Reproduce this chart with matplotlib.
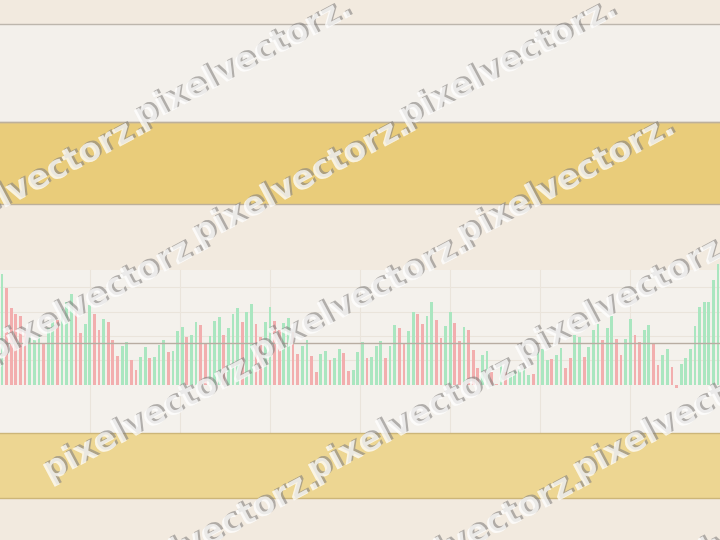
import matplotlib
matplotlib.use('Agg')
import matplotlib.pyplot as plt
import matplotlib.patheffects as pe
from matplotlib.patches import Rectangle
import numpy as np

# bar heights (volume-like series)
volume = [111, 97, 77, 71, 69, 55, 48, 45, 50, 41, 57, 66, 65, 76, 83, 91,
          74, 52, 61, 80, 71, 55, 66, 63, 45, 29, 39, 43, 25, 15, 28, 38,
          27, 28, 40, 45, 33, 34, 54, 58, 48, 50, 63, 60, 41, 49, 64, 68,
          50, 57, 71, 77, 63, 73, 81, 61, 48, 63, 78, 64, 55, 62, 67, 53,
          31, 39, 45, 29, 13, 31, 34, 25, 27, 36, 32, 14, 15, 33, 43, 27,
          28, 39, 44, 27, 39, 60, 57, 41, 54, 73, 71, 61, 69, 83, 65, 47,
          59, 73, 62, 44, 58, 55, 35, 17, 30, 34, 13, 1, 23, 13, 13, 14,
          16, 17, 10, 11, 33, 36, 25, 26, 30, 37, 17, 27, 50, 48, 28, 38,
          55, 61, 45, 57, 69, 46, 30, 46, 66, 50, 43, 55, 60, 42, 20, 30,
          36, 18, -3.5, 21, 27, 36, 59, 78, 83, 83, 105, 121]
direction = list("GRRRRRGGGRGGRGGGRRGGRRGRRRGGRRGGRGGGRGGGRGGRRGGGRGGGRGGRRGGRRGGRRG"
                 "GRRGGRGGRRGGGRGGGRGGRRGGRRGGRRGGRRGRRRGGRRGRGGGGGRGGGRGGRRGGRGGG"
                 "RGGRRGGRRGGRRGGRRGGGGGGGG")
ref_level = 41.4
grid_levels = [24.4, 48.8, 73.2, 97.6]
watermark = "pixelvectorz."

W, H = 720, 540
base_px = 384.7          # baseline of bars, pixels from top
pitch = 4.62             # bar spacing in pixels
x0_px = 2.0

fig = plt.figure(figsize=(7.2, 5.4), dpi=100)
fig.patch.set_facecolor('#F2EADF')

def band(top, bottom, color, edge=None):
    fig.add_artist(Rectangle((0, 1 - bottom / H), 1, (bottom - top) / H,
                             transform=fig.transFigure, facecolor=color,
                             edgecolor='none', zorder=0))
    if edge:
        for y in (top, bottom):
            fig.add_artist(plt.Line2D([0, 1], [1 - y / H] * 2,
                                      transform=fig.transFigure,
                                      color=edge, lw=1, zorder=0.5))

band(24, 122, '#F3F0EB', '#BDB6AD')
band(122, 204, '#E9CC7A', '#BDB09A')
band(270, 433, '#F4F1EC')
band(433, 498, '#EDD692', '#CDB679')

ax = fig.add_axes([0, 0, 1, 1])
ax.set_facecolor('none')
ax.set_xlim(-x0_px / pitch, (W - x0_px) / pitch)
ax.set_ylim(base_px - H, base_px)
ax.axis('off')

# faint panel grid
for g in grid_levels:
    ax.axhline(g, color='#EAE4DB', lw=0.8, zorder=1)
for xp in range(90, 720, 90):
    ax.axvline((xp - x0_px) / pitch, ymin=1 - 433 / H, ymax=1 - 270 / H,
               color='#EAE4DB', lw=0.8, zorder=1)

idx = np.arange(len(volume))
colors = ['#AAE6C0' if d == 'G' else '#F2AEAE' for d in direction]
ax.bar(idx, volume, width=0.6, color=colors, linewidth=0, zorder=3)
ax.axhline(ref_level, color='#B8ADA2', lw=1, zorder=4)

# watermark tiles
for k in range(-1, 6):
    for m in range(0, 6):
        px = 140 + 265 * k - 207 * m
        py = 128 + 118 * m
        if -100 < px < 650 and py < H + 120:
            fig.text(px / W, 1 - py / H, watermark, fontsize=24,
                     fontweight='bold', family='DejaVu Sans', color='white',
                     alpha=0.5, rotation=28, rotation_mode='anchor',
                     ha='left', va='baseline', zorder=10,
                     path_effects=[pe.withSimplePatchShadow(offset=(1.4, 1.4),
                                                            shadow_rgbFace='#858280',
                                                            alpha=0.6),
                                   pe.Normal()])

fig.savefig('out.png', dpi=100)
